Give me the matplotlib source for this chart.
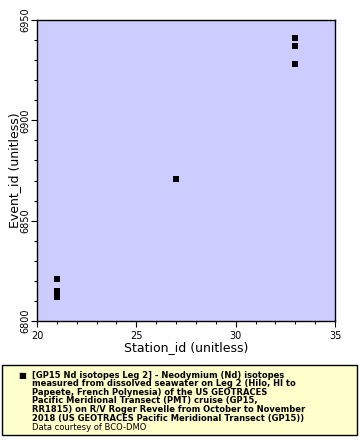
import matplotlib
matplotlib.use("Agg")
import matplotlib.pyplot as plt
from matplotlib.ticker import MultipleLocator
from matplotlib.patches import Rectangle

station_id = [21, 21, 21, 21, 21, 27, 33, 33, 33]
event_id = [6812, 6813, 6814, 6815, 6821, 6871, 6928, 6937, 6941]
x_ticks = [20, 25, 30, 35]
y_ticks = [6800, 6850, 6900, 6950]
legend_lines = [
    "[GP15 Nd isotopes Leg 2] - Neodymium (Nd) isotopes",
    "measured from dissolved seawater on Leg 2 (Hilo, HI to",
    "Papeete, French Polynesia) of the US GEOTRACES",
    "Pacific Meridional Transect (PMT) cruise (GP15,",
    "RR1815) on R/V Roger Revelle from October to November",
    "2018 (US GEOTRACES Pacific Meridional Transect (GP15))",
]
credit = "Data courtesy of BCO-DMO"

plt.rcParams['font.family'] = ['DejaVu Sans']
W, H = 360, 440
fig = plt.figure(figsize=(W/100, H/100), dpi=100)
ax = fig.add_axes([37/W, 1-321/H, 298/W, 301/H])
ax.set_facecolor('#ccccff')
ax.plot(station_id, event_id, linestyle='none', marker='s', markersize=4.3,
        color='black', markeredgewidth=0)
ax.set_xlim(20, 35)
ax.set_ylim(6800, 6950)
ax.set_xticks(x_ticks)
ax.set_yticks(y_ticks)
ax.xaxis.set_minor_locator(MultipleLocator(1))
ax.yaxis.set_minor_locator(MultipleLocator(10))
ax.tick_params(which='major', length=4, labelsize=7, width=0.8)
ax.tick_params(which='minor', length=2, width=0.8)
ax.tick_params(axis='y', which='major', pad=1)
for lab in ax.get_yticklabels():
    lab.set_rotation(90)
    lab.set_va('center')
for s in ax.spines.values():
    s.set_linewidth(1)
ax.set_xlabel("Station_id (unitless)", fontsize=9, va='center')
ax.set_ylabel("Event_id (unitless)", fontsize=9, va='center')
ax.xaxis.set_label_coords(0.5, (321-348)/301)
ax.yaxis.set_label_coords((15-37)/298, 0.5)

# legend box
fig.patches.append(Rectangle((2/W, 1-435/H), 355/W, 70/H, transform=fig.transFigure,
                             facecolor='#ffffcc', edgecolor='black', linewidth=1))
fig.text(22/W, 1-375/H, "■", fontsize=6, ha='center', va='center')
fig.text(32/W, 1-370.5/H, "\n".join(legend_lines), fontsize=6.0, fontweight='bold',
         ha='left', va='top', linespacing=0.95)
fig.text(32/W, 1-427.5/H, credit, fontsize=6.0, ha='left', va='center')

fig.savefig("out.png", dpi=100)
